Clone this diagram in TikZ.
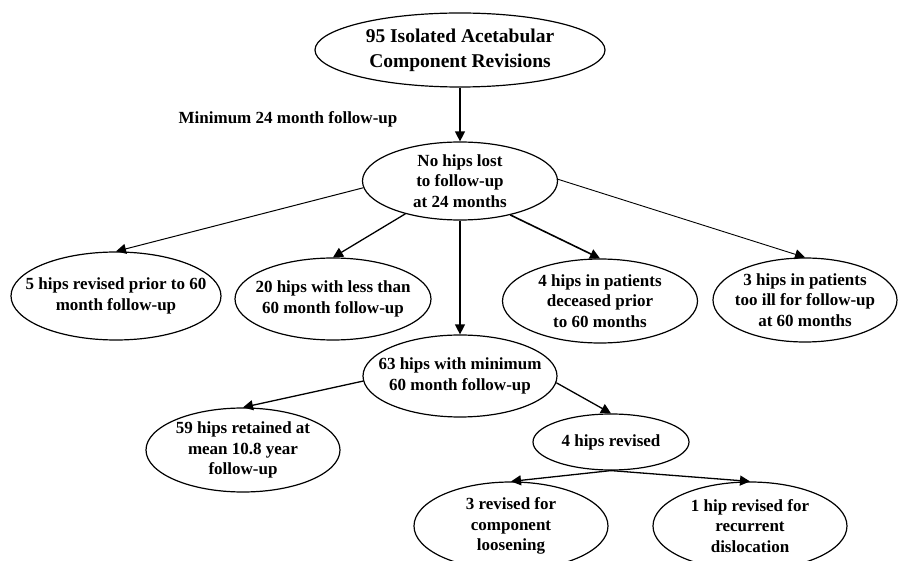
\documentclass[tikz,border=0pt]{standalone}
\usepackage{fontspec}
\setmainfont{Liberation Serif}
\usetikzlibrary{shapes.geometric,arrows.meta}
\begin{document}
\begin{tikzpicture}[x=1pt,y=-1pt,
  ell/.style={draw, ellipse, line width=1.2pt, inner sep=0pt},
  txt/.style={font=\fontsize{17}{20.5}\selectfont\bfseries, align=center, inner sep=0pt},
  bigtxt/.style={font=\fontsize{19.5}{25}\selectfont\bfseries, align=center, inner sep=0pt},
  arr/.style={line width=1.3pt, -{Triangle[length=10pt,width=10pt]}},
]
\useasboundingbox (0,0) rectangle (898,561);
\fill[white] (0,0) rectangle (898,561);
\clip (0,0) rectangle (898,561);

\node[ell, minimum width=290pt, minimum height=74pt,
  label={[bigtxt]center:95 Isolated Acetabular\\Component Revisions}] (T) at (460,50) {};
\node[txt] (M) at (288,119) {Minimum 24 month follow-up};
\node[ell, minimum width=195pt, minimum height=78pt,
  label={[txt]center:No hips lost\\to follow-up\\at 24 months}] (N) at (460,181) {};

\node[ell, minimum width=210pt, minimum height=88pt,
  label={[txt]center:5 hips revised prior to 60\\month follow-up}] (A) at (116,296) {};
\node[ell, minimum width=196pt, minimum height=82pt,
  label={[txt]center:20 hips with less than\\60 month follow-up}] (B) at (333,299) {};
\node[ell, minimum width=195pt, minimum height=84pt,
  label={[txt]center:4 hips in patients\\deceased prior\\to 60 months}] (C) at (600,301) {};
\node[ell, minimum width=184pt, minimum height=84pt,
  label={[txt]center:3 hips in patients\\too ill for follow-up\\at 60 months}] (D) at (805,300) {};

\node[ell, minimum width=194pt, minimum height=82pt,
  label={[txt]center:63 hips with minimum\\60 month follow-up}] (E) at (460,376) {};
\node[ell, minimum width=194pt, minimum height=84pt,
  label={[txt]center:59 hips retained at\\mean 10.8 year\\follow-up}] (F) at (243,450) {};
\node[ell, minimum width=156pt, minimum height=56pt,
  label={[txt]center:4 hips revised}] (G) at (611,442) {};
\node[ell, minimum width=194pt, minimum height=88pt,
  label={[txt]center:3 revised for\\component\\loosening}] (H) at (511,526) {};
\node[ell, minimum width=194pt, minimum height=88pt,
  label={[txt]center:1 hip revised for\\recurrent\\dislocation}] (I) at (750,526) {};

\draw[arr] (T.south) -- (N.north);
\draw[arr, line width=1pt] (N.184) -- (A.north);
\draw[arr] (N.211) -- (B.north);
\draw[arr] (N.south) -- (E.north);
\draw[arr, line width=1.6pt] (N.326) -- (C.north);
\draw[arr, line width=0.9pt] (N.1) -- (D.north);
\draw[arr] (E.183) -- (F.north);
\draw[arr] (E.356) -- (G.north);
\draw[arr] (G.south) -- (H.north);
\draw[arr] (G.south) -- (I.north);
\end{tikzpicture}
\end{document}
